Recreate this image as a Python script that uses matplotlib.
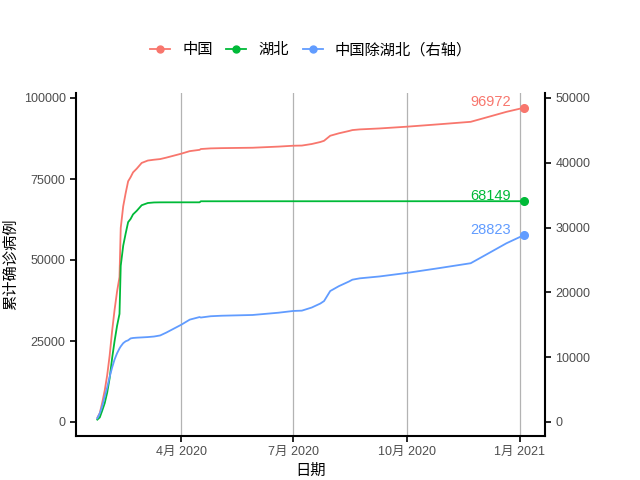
import matplotlib
matplotlib.use("Agg")
import matplotlib.pyplot as plt
import matplotlib.dates as mdates
from matplotlib.lines import Line2D
import datetime as dt

plt.rcParams['font.family'] = ['Liberation Sans', 'Noto Sans CJK SC', 'DejaVu Sans']

dates = ["2020-01-24", "2020-01-26", "2020-01-28", "2020-01-30", "2020-02-01", "2020-02-03",
         "2020-02-05", "2020-02-07", "2020-02-09", "2020-02-11", "2020-02-12", "2020-02-14",
         "2020-02-16", "2020-02-18", "2020-02-20", "2020-02-22", "2020-02-25", "2020-02-29",
         "2020-03-05", "2020-03-10", "2020-03-15", "2020-03-20", "2020-03-25", "2020-04-01",
         "2020-04-08", "2020-04-16", "2020-04-17", "2020-04-25", "2020-05-04", "2020-05-29",
         "2020-06-19", "2020-07-01", "2020-07-08", "2020-07-16", "2020-07-23", "2020-07-26",
         "2020-07-31", "2020-08-07", "2020-08-15", "2020-08-18", "2020-08-24", "2020-09-09",
         "2020-10-01", "2020-10-27", "2020-11-22", "2020-12-04", "2020-12-21", "2021-01-04"]

china = [1297, 2760, 5990, 9720, 14410, 20480,
         28060, 34600, 40230, 44720, 59870, 66570,
         70640, 74290, 75560, 77050, 78200, 79960,
         80700, 80950, 81150, 81600, 82100, 82800,
         83600, 84000, 84250, 84450, 84530, 84650,
         85000, 85270, 85320, 85800, 86420, 86800,
         88350, 89100, 89800, 90100, 90310, 90600,
         91140, 91880, 92650, 93920, 95730, 96972]

hubei = [729, 1423, 3554, 5806, 9074, 13522,
         19665, 24953, 29631, 33366, 48206, 54406,
         58182, 61682, 62662, 64084, 65187, 66907,
         67592, 67760, 67794, 67800, 67801, 67802,
         67803, 67803, 68128, 68128, 68128, 68135,
         68135, 68135, 68135, 68135, 68135, 68135,
         68138, 68138, 68138, 68138, 68139, 68139,
         68139, 68143, 68147, 68148, 68149, 68149]

china_ex_hubei = [568, 1337, 2436, 3914, 5336, 6958,
                  8395, 9647, 10599, 11354, 11664, 12164,
                  12458, 12608, 12898, 12966, 13013, 13053,
                  13108, 13190, 13356, 13800, 14300, 14998,
                  15797, 16197, 16122, 16322, 16402, 16515,
                  16865, 17135, 17185, 17665, 18285, 18665,
                  20212, 20962, 21662, 21962, 22171, 22460,
                  23000, 23737, 24503, 25772, 27581, 28823]

series_names = ["中国", "湖北", "中国除湖北（右轴）"]
colors = ["#F8766D", "#00BA38", "#619CFF"]
xtick_dates = ["2020-04-01", "2020-07-01", "2020-10-01", "2021-01-01"]
xtick_labels = ["4月 2020", "7月 2020", "10月 2020", "1月 2021"]
left_ticks = [0, 25000, 50000, 75000, 100000]
right_ticks = [0, 10000, 20000, 30000, 40000, 50000]

d = [dt.datetime.strptime(s, "%Y-%m-%d") for s in dates]

fig = plt.figure(figsize=(6.4, 4.8), dpi=100)
ax = fig.add_axes([76/640, 1-436/480, (545-76)/640, (436-93)/480])
ax2 = ax.twinx()

lw = 1.3
ax.plot(d, china, color=colors[0], lw=lw, zorder=3)
ax.plot(d, hubei, color=colors[1], lw=lw, zorder=3)
ax2.plot(d, china_ex_hubei, color=colors[2], lw=lw, zorder=3)

ms_end = 5.5
ax.plot([d[-1]], [china[-1]], 'o', color=colors[0], ms=ms_end, zorder=4)
ax.plot([d[-1]], [hubei[-1]], 'o', color=colors[1], ms=ms_end, zorder=4)
ax2.plot([d[-1]], [china_ex_hubei[-1]], 'o', color=colors[2], ms=ms_end, zorder=4)

for a, val, c in [(ax, china[-1], colors[0]), (ax, hubei[-1], colors[1]), (ax2, china_ex_hubei[-1], colors[2])]:
    a.annotate(str(val), (d[-1], val), xytext=(-9, 1), textcoords='offset points',
               ha='right', va='baseline', color=c, fontsize=10.5)

ytop = (422-93)/324*100000
ybot = (422-436)/324*100000
ax.set_ylim(ybot, ytop)
ax2.set_ylim(ybot/2, ytop/2)
x0 = mdates.date2num(dt.datetime(2020, 1, 24)) - 17.3
x1 = mdates.date2num(dt.datetime(2021, 1, 4)) + 17.3
ax.set_xlim(x0, x1)

ax.set_xticks([dt.datetime.strptime(s, "%Y-%m-%d") for s in xtick_dates])
ax.set_xticklabels(xtick_labels)
ax.set_yticks(left_ticks)
ax.set_yticklabels([str(v) for v in left_ticks])
ax2.set_yticks(right_ticks)
ax2.set_yticklabels([str(v) for v in right_ticks])

ax.grid(axis='x', color='#b3b3b3', lw=0.9)
ax.set_axisbelow(True)

for s in ['top', 'right']:
    ax.spines[s].set_visible(False)
for s in ['top', 'left', 'bottom']:
    ax2.spines[s].set_visible(False)
for sp in [ax.spines['left'], ax.spines['bottom'], ax2.spines['right']]:
    sp.set_linewidth(1.5)
    sp.set_color('black')

for a in (ax, ax2):
    a.tick_params(direction='out', length=4, width=1.2, color='black',
                  labelcolor='#4d4d4d', labelsize=9)

ax.set_xlabel("日期", fontsize=11, labelpad=4)
ax.set_ylabel("累计确诊病例", fontsize=11, labelpad=4)

handles = [Line2D([0], [0], color=c, lw=lw, marker='o', ms=5) for c in colors]
fig.legend(handles, series_names, loc='center', bbox_to_anchor=(311/640, 1-50/480),
           ncol=3, frameon=False, fontsize=11, handlelength=1.3, handletextpad=0.8,
           columnspacing=0.9)

fig.savefig("out.png", dpi=100)
